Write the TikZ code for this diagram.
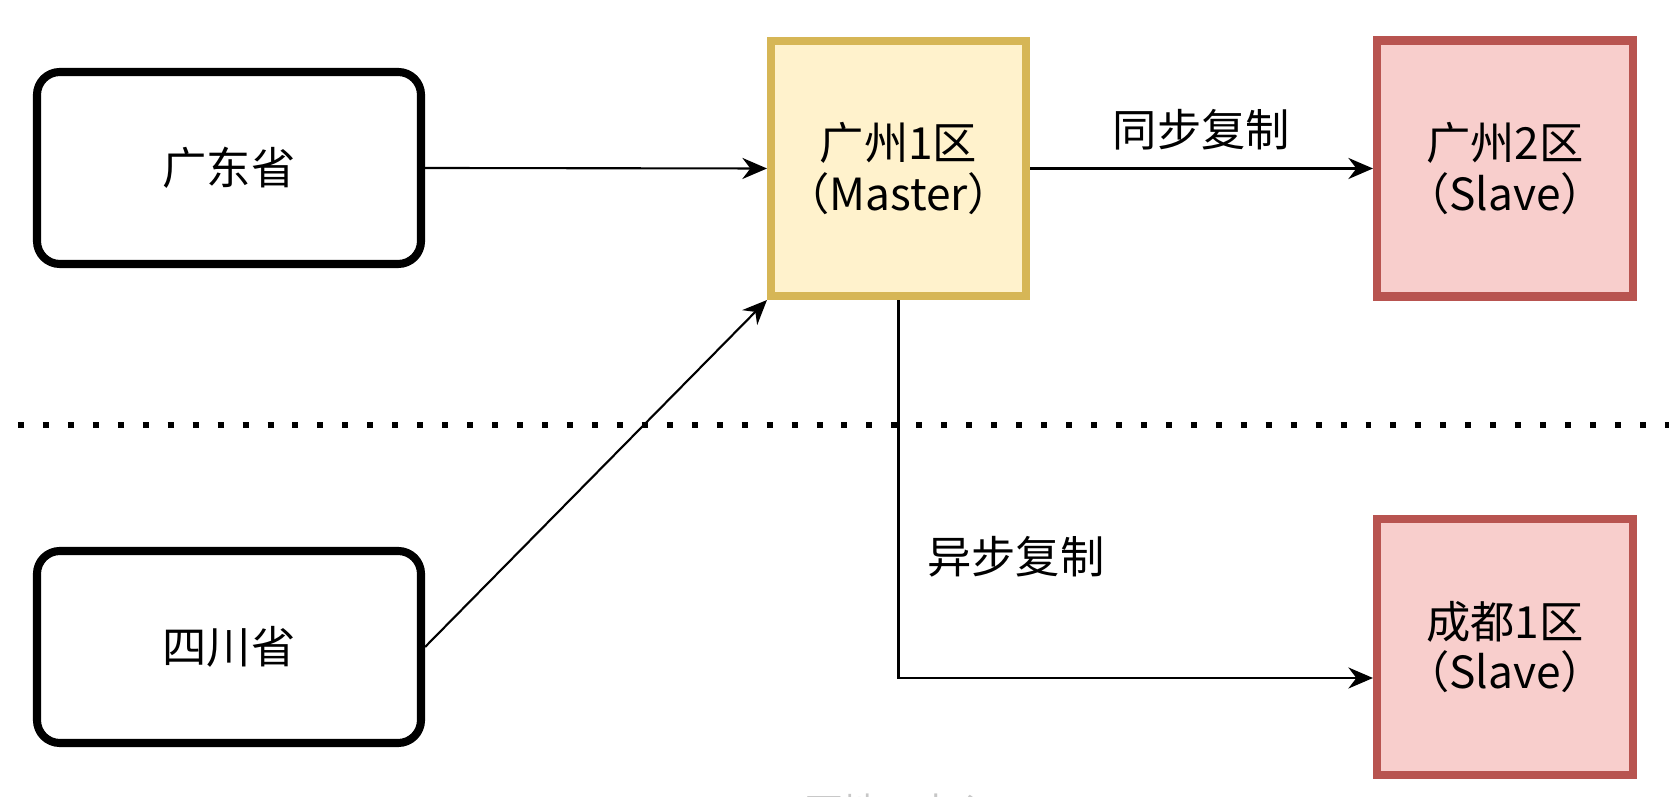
\documentclass[tikz,border=0pt]{standalone}
\usepackage{fontspec}
\setmainfont{Noto Sans CJK SC}
\usetikzlibrary{arrows.meta,positioning}

\begin{document}
\begin{tikzpicture}[
  every node/.style={font=\fontsize{12.6}{14.4}\selectfont},
  prov/.style  ={draw, line width=2.3pt, rounded corners=6.5pt, fill=white,
                 minimum width=3.84cm, minimum height=1.92cm, align=center},
  master/.style={draw=masterline, line width=2.3pt, fill=masterfill,
                 minimum width=2.55cm, minimum height=2.55cm, align=center},
  slave/.style ={draw=slaveline, line width=2.3pt, fill=slavefill,
                 minimum width=2.56cm, minimum height=2.56cm, align=center},
  arr/.style   ={-{Stealth[length=7pt,width=6pt]}, line width=0.6pt},
  sep/.style   ={line width=1.7pt, dash pattern=on 1.7pt off 5.4pt},
  lbl/.style   ={font=\fontsize{12.6}{14}\selectfont}
]
\definecolor{masterfill}{HTML}{FFF2CC}
\definecolor{masterline}{HTML}{D6B656}
\definecolor{slavefill}{HTML}{F8CECC}
\definecolor{slaveline}{HTML}{B85450}

\useasboundingbox[fill=white] (0,0) rectangle (16.69,7.97);

% Provinces
\node[prov]   (gd)  at (2.29,6.29) {广东省};
\node[prov]   (sc)  at (2.29,1.50) {四川省};

% Data centres
\node[master] (gz1) at (8.985,6.285) {广州1区\\（Master）};
\node[slave]  (gz2) at (15.05,6.285) {广州2区\\（Slave）};
\node[slave]  (cd)  at (15.05,1.50)  {成都1区\\（Slave）};

% Region split
\coordinate (sepL) at (0.18,3.72);
\coordinate (sepR) at (16.69,3.72);
\draw[sep] (sepL) -- (sepR);

% Arrows
\draw[arr] (gd.east) -- (gz1.west);
\draw[arr] (sc.east) -- (gz1.south west);
\draw[arr] (gz1.east) -- node[lbl, midway, above=1.5pt] (sync) {同步复制} (gz2.west);
\draw[arr] (gz1.south) |- node[lbl, pos=0.34, right=0.16cm] (async) {异步复制}
           ([yshift=-3.1mm]cd.west);

% Caption (cut off at the bottom)
\node[font=\fontsize{10.7}{12}\selectfont, text=black!22] (cap) at (8.99,-0.14) {两地三中心};

\end{tikzpicture}
\end{document}
